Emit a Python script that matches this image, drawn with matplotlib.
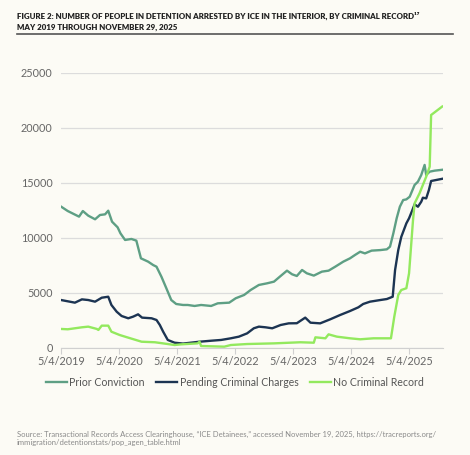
import matplotlib
matplotlib.use("Agg")
import matplotlib.pyplot as plt
from matplotlib.lines import Line2D
import pandas as pd

prior_dates = ["2019-05-04", "2019-06-15", "2019-08-25", "2019-09-18", "2019-10-22", "2019-12-04",
               "2020-01-04", "2020-02-05", "2020-02-25", "2020-03-20", "2020-04-24", "2020-05-12",
               "2020-06-10", "2020-07-20", "2020-08-20", "2020-09-18", "2020-11-02", "2020-12-04",
               "2020-12-25", "2021-01-25", "2021-02-25", "2021-03-28", "2021-04-28", "2021-06-10",
               "2021-07-10", "2021-08-22", "2021-10-02", "2021-12-04", "2022-01-15", "2022-03-28",
               "2022-05-08", "2022-06-30", "2022-08-10", "2022-10-01", "2022-11-22", "2023-01-04",
               "2023-02-15", "2023-03-27", "2023-04-28", "2023-05-28", "2023-06-30", "2023-07-30",
               "2023-09-12", "2023-11-02", "2023-12-14", "2024-01-25", "2024-03-16", "2024-04-27",
               "2024-05-28", "2024-06-30", "2024-07-30", "2024-09-10", "2024-11-04", "2024-12-15",
               "2025-01-04", "2025-01-25", "2025-02-15", "2025-03-07", "2025-03-28", "2025-04-17",
               "2025-05-08", "2025-06-08", "2025-06-29", "2025-07-20", "2025-08-10", "2025-08-20",
               "2025-09-11", "2025-10-12", "2025-11-29"]
prior_vals = [12850, 12450, 11940, 12450, 12030, 11700,
              12090, 12150, 12480, 11480, 10970, 10420,
              9820, 9910, 9760, 8150, 7850, 7540,
              7390, 6480, 5430, 4360, 4000, 3910,
              3910, 3820, 3910, 3820, 4060, 4120,
              4520, 4820, 5270, 5730, 5880, 6030,
              6545, 7030, 6700, 6545, 7090, 6790,
              6580, 6940, 7030, 7390, 7850, 8150,
              8450, 8750, 8600, 8850, 8900, 8970,
              9210, 10420, 11790, 12840, 13450, 13510,
              13750, 14820, 15120, 15730, 16640, 15730,
              16030, 16120, 16200]

pending_dates = ["2019-05-04", "2019-07-30", "2019-09-12", "2019-10-22", "2019-12-04", "2020-01-15",
                 "2020-02-25", "2020-03-16", "2020-04-18", "2020-05-19", "2020-06-30", "2020-07-31",
                 "2020-08-31", "2020-09-25", "2020-11-24", "2020-12-25", "2021-01-15", "2021-02-05",
                 "2021-03-06", "2021-04-18", "2021-06-10", "2021-09-22", "2021-12-04", "2022-02-05",
                 "2022-04-07", "2022-05-28", "2022-07-19", "2022-08-30", "2022-10-01", "2022-11-12",
                 "2022-12-24", "2023-02-15", "2023-04-07", "2023-05-28", "2023-07-20", "2023-08-22",
                 "2023-10-22", "2023-12-25", "2024-02-25", "2024-04-27", "2024-06-19", "2024-07-19",
                 "2024-08-31", "2024-11-04", "2024-12-15", "2025-01-21", "2025-02-05", "2025-02-25",
                 "2025-03-16", "2025-04-17", "2025-05-04", "2025-05-25", "2025-06-08", "2025-06-29",
                 "2025-07-20", "2025-07-30", "2025-08-20", "2025-09-06", "2025-09-20", "2025-11-29"]
pending_vals = [4360, 4120, 4420, 4360, 4210, 4570,
                4660, 3910, 3300, 2910, 2700, 2850,
                3060, 2760, 2700, 2545, 2090, 1480,
                730, 480, 400, 570, 660, 730,
                880, 1030, 1330, 1790, 1940, 1880,
                1790, 2090, 2240, 2250, 2760, 2300,
                2240, 2610, 3000, 3360, 3700, 4000,
                4210, 4360, 4450, 4660, 7090, 8900,
                10100, 11330, 11790, 12540, 13060, 12840,
                13300, 13660, 13600, 14360, 15180, 15380]

norecord_dates = ["2019-05-04", "2019-06-15", "2019-09-12", "2019-10-22", "2019-12-15", "2019-12-25",
                  "2020-01-15", "2020-02-25", "2020-03-16", "2020-05-07", "2020-06-30", "2020-09-22",
                  "2020-12-15", "2021-03-06", "2021-04-18", "2021-05-29", "2021-09-10", "2021-09-22",
                  "2021-10-02", "2022-02-25", "2022-04-07", "2022-07-19", "2023-01-04", "2023-06-19",
                  "2023-09-12", "2023-09-22", "2023-11-24", "2023-12-14", "2024-02-04", "2024-04-27",
                  "2024-06-30", "2024-09-22", "2025-01-10", "2025-01-31", "2025-02-25", "2025-03-16",
                  "2025-04-17", "2025-05-04", "2025-05-29", "2025-06-08", "2025-07-09", "2025-07-30",
                  "2025-08-20", "2025-09-11", "2025-09-20", "2025-11-29"]
norecord_vals = [1730, 1700, 1880, 1940, 1730, 1640,
                 2030, 2030, 1480, 1180, 940, 570,
                 520, 360, 270, 330, 420, 570,
                 180, 120, 270, 360, 420, 520,
                 480, 970, 880, 1240, 1030, 880,
                 790, 880, 880, 2850, 4820, 5270,
                 5430, 6790, 11630, 13150, 14060, 14820,
                 15570, 16480, 21180, 21950]

series = [
    ("Prior Conviction", prior_dates, prior_vals, "#5E9F84"),
    ("Pending Criminal Charges", pending_dates, pending_vals, "#1C3452"),
    ("No Criminal Record", norecord_dates, norecord_vals, "#93E95E"),
]
tick_dates = ["2019-05-04", "2020-05-04", "2021-05-04", "2022-05-04",
              "2023-05-04", "2024-05-04", "2025-05-04"]
tick_labels = ["5/4/2019", "5/4/2020", "5/4/2021", "5/4/2022", "5/4/2023", "5/4/2024", "5/4/2025"]
y_ticks = [0, 5000, 10000, 15000, 20000, 25000]

bg = "#FCFBF5"
plt.rcParams["font.family"] = ["Lato", "DejaVu Sans"]

fig = plt.figure(figsize=(4.7, 4.55), dpi=100, facecolor=bg)
ax = fig.add_axes([0.130, 0.2352, 0.8126, 0.6044], facecolor=bg)

for name, d, v, c in series:
    ax.plot(pd.to_datetime(d), v, color=c, lw=1.7, label=name, solid_joinstyle="round")

ax.set_ylim(0, 25000)
ax.set_xlim(pd.Timestamp("2019-05-04"), pd.Timestamp("2025-12-04"))
ax.set_yticks(y_ticks)
ax.set_yticklabels([str(t) for t in y_ticks])
ax.set_xticks(pd.to_datetime(tick_dates))
ax.set_xticklabels(tick_labels)
ax.grid(axis="y", color="#DCDCDC", lw=0.9)
ax.set_axisbelow(True)
for s in ["top", "right", "left"]:
    ax.spines[s].set_visible(False)
ax.spines["bottom"].set_color("#D0D0D0")
ax.tick_params(axis="y", length=0, pad=6, labelsize=7.8, labelcolor="#666666")
ax.tick_params(axis="x", length=4, color="#D0D0D0", pad=2, labelsize=7.8, labelcolor="#666666")

fig.legend(loc="center", bbox_to_anchor=(0.5, 1 - 382 / 455), ncol=3, frameon=False,
           fontsize=7.6, handlelength=2.0, handletextpad=0.2, columnspacing=1.1,
           labelcolor="#555555")

fig.text(17 / 470, 1 - 16 / 455, "FIGURE 2: NUMBER OF PEOPLE IN DETENTION ARRESTED BY ICE IN THE INTERIOR, BY CRIMINAL RECORD\u00b9\u2077",
         fontsize=5.7, fontweight="heavy", color="#222222", va="center", ha="left")
fig.text(17 / 470, 1 - 27 / 455, "MAY 2019 THROUGH NOVEMBER 29, 2025",
         fontsize=5.7, fontweight="heavy", color="#222222", va="center", ha="left")
fig.add_artist(Line2D([17 / 470, 453 / 470], [1 - 34 / 455, 1 - 34 / 455],
                      color="#555555", lw=1.2, transform=fig.transFigure))

fig.text(17 / 470, 1 - 434 / 455,
         "Source: Transactional Records Access Clearinghouse, \u201cICE Detainees,\u201d accessed November 19, 2025, https://tracreports.org/",
         fontsize=5.5, color="#8A8A8A", va="center", ha="left")
fig.text(17 / 470, 1 - 442 / 455, "immigration/detentionstats/pop_agen_table.html",
         fontsize=5.5, color="#8A8A8A", va="center", ha="left")

plt.savefig("out.png", dpi=100, facecolor=bg)
print("Saved: out.png")
